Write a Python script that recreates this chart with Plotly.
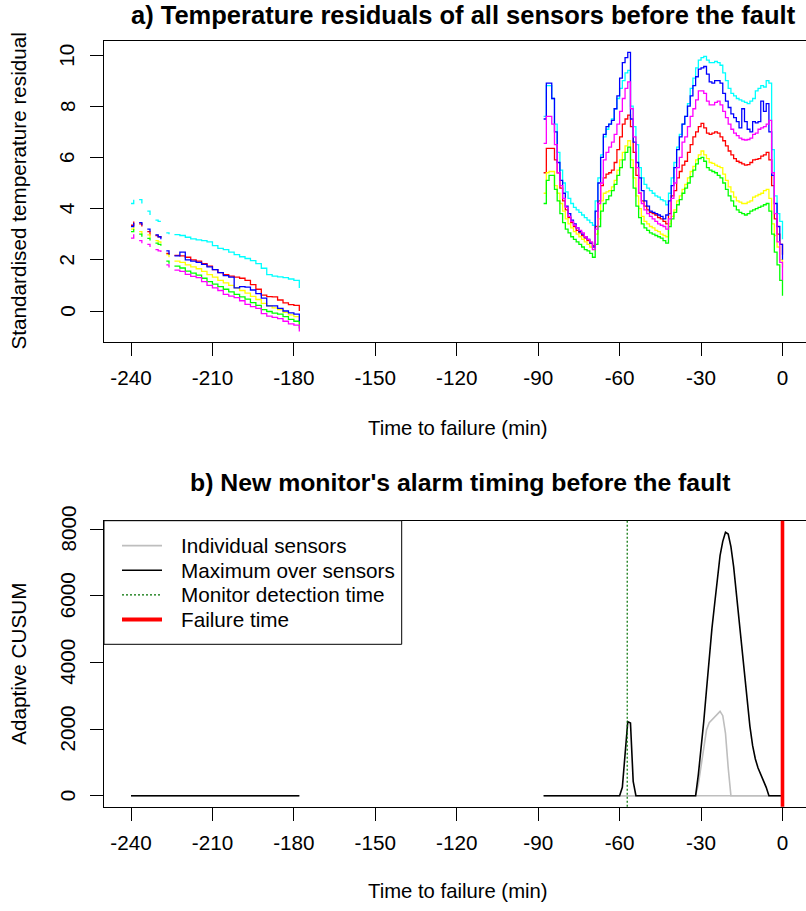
import plotly.graph_objects as go

# ---------------- data: panel a (standardised temperature residuals) ----------------
time_seg1 = [-240, -239, -238, -237, -236, -235, -234, -233, -232, -231, -230, -229, -228,
             -227, -226, -225, -224, -222, -220, -218, -216, -214, -212, -210, -208, -206,
             -204, -202, -200, -198, -196, -194, -192, -190, -188, -186, -184, -182, -180, -178]
time_seg2 = list(range(-88, 1))
gap_time = -130

red_seg1 = [3.35, 3.5, None, 3.4, 3.3, None, 3.1, 2.95, None, 2.95, 2.9, 2.85, None,
            2.25, 2.2, None, 2.17, 2.15, 2.1, 2.0, 1.95, 1.85, 1.75, 1.62, 1.5, 1.42,
            1.36, 1.32, 1.28, 1.2, 1.03, 0.85, 0.62, 0.56, 0.55, 0.43, 0.32, 0.25, 0.22, 0.0]
yellow_seg1 = [3.2, 3.3, None, 3.1, 3.0, None, 2.97, 2.85, None, 2.75, 2.7, 2.65, None,
               2.2, 2.1, None, 1.95, 1.9, 1.8, 1.72, 1.65, 1.55, 1.42, 1.32, 1.2, 1.1,
               1.0, 0.9, 0.8, 0.7, 0.57, 0.45, 0.3, 0.2, 0.12, 0.05, -0.05, -0.15, -0.22, -0.5]
green_seg1 = [3.1, 3.2, None, 3.0, 2.9, None, 2.84, 2.75, None, 2.65, 2.6, 2.55, None,
              1.95, 1.85, None, 1.75, 1.68, 1.56, 1.48, 1.4, 1.28, 1.15, 1.05, 0.95, 0.85,
              0.75, 0.65, 0.55, 0.46, 0.33, 0.22, 0.05, -0.02, -0.08, -0.12, -0.22, -0.33, -0.4, -0.68]
cyan_seg1 = [4.2, 4.35, None, 4.35, 4.2, None, 3.9, 3.75, None, 3.55, 3.5, 3.5, None,
             3.05, 3.0, None, 2.98, 2.95, 2.88, 2.82, 2.78, 2.75, 2.7, 2.55, 2.45, 2.4,
             2.3, 2.2, 2.12, 2.05, 1.97, 1.85, 1.67, 1.42, 1.36, 1.33, 1.3, 1.25, 1.2, 0.9]
blue_seg1 = [3.3, 3.45, None, 3.45, 3.35, None, 3.2, 3.1, None, 2.97, 2.9, 2.8, None,
             2.35, 2.2, None, 2.15, 2.3, 2.0, 1.95, 1.9, 1.82, 1.72, 1.62, 1.5, 1.38,
             1.32, 0.9, 0.95, 0.93, 0.82, 0.68, 0.5, 0.2, 0.2, 0.1, 0.0, -0.07, -0.12, -0.4]
magenta_seg1 = [2.85, 3.0, None, 2.75, 2.65, None, 2.6, 2.5, None, 2.4, 2.35, 2.3, None,
                1.8, 1.7, None, 1.6, 1.55, 1.43, 1.35, 1.3, 1.15, 1.0, 0.9, 0.8, 0.65,
                0.58, 0.52, 0.4, 0.26, 0.17, 0.1, -0.1, -0.2, -0.25, -0.3, -0.4, -0.5, -0.55, -0.8]

red_seg2 = [5.4, 6.35, 6.35, 6.35, 5.9, 5.4, 4.8, 4.3, 3.95,
            3.65, 3.45, 3.3, 3.15, 3.05, 2.95, 2.85, 2.75, 2.65, 2.55,
            3.3, 4.3, 4.9, 5.2, 5.35, 5.4, 5.5, 5.8, 6.3, 6.8,
            7.3, 7.5, 7.65, 7.2, 6.2, 5.3, 4.6, 4.3, 4.1, 3.95,
            3.85, 3.8, 3.75, 3.65, 3.6, 3.5, 3.4, 3.8, 4.5, 4.7,
            5.2, 5.45, 5.7, 5.85, 6.2, 6.5, 6.8, 7.0, 7.2, 7.33,
            7.15, 6.95, 6.9, 6.95, 7.0, 6.95, 6.8, 6.65, 6.45, 6.25,
            6.1, 5.95, 5.85, 5.8, 5.75, 5.7, 5.72, 5.8, 5.9, 5.92,
            5.95, 6.05, 6.1, 6.2, 5.9, 4.9, 3.6, 3.0, 2.6, 2.2]
yellow_seg2 = [4.6, 5.4, 5.45, 5.45, 4.9, 4.6, 4.2, 3.9, 3.6,
               3.4, 3.25, 3.1, 3.0, 2.9, 2.8, 2.7, 2.6, 2.5, 2.4,
               3.0, 3.6, 4.3, 4.6, 4.65, 4.7, 4.85, 5.1, 5.5, 5.9,
               6.2, 6.45, 6.65, 5.9, 5.2, 4.5, 4.0, 3.7, 3.5, 3.4,
               3.3, 3.25, 3.15, 3.1, 3.0, 2.95, 2.9, 3.4, 3.7, 3.95,
               4.3, 4.5, 4.75, 4.95, 5.2, 5.45, 5.65, 5.9, 6.1, 6.25,
               6.1, 5.95, 5.8, 5.77, 5.7, 5.65, 5.6, 5.35, 5.1, 4.85,
               4.65, 4.45, 4.3, 4.25, 4.2, 4.2, 4.25, 4.3, 4.45, 4.5,
               4.55, 4.6, 4.7, 4.75, 4.4, 3.4, 2.95, 2.5, 2.0, 1.7]
green_seg2 = [4.2, 5.1, 5.3, 5.3, 4.75, 4.3, 3.8, 3.45, 3.2,
              3.05, 2.9, 2.8, 2.7, 2.6, 2.5, 2.4, 2.35, 2.25, 2.1,
              2.6, 3.3, 3.9, 4.2, 4.35, 4.5, 4.7, 4.95, 5.3, 5.6,
              5.9, 6.2, 6.4, 5.6, 4.8, 4.1, 3.65, 3.4, 3.25, 3.15,
              3.05, 3.0, 2.95, 2.9, 2.85, 2.75, 2.65, 3.3, 3.6, 3.85,
              4.15, 4.35, 4.6, 4.8, 5.0, 5.25, 5.5, 5.75, 5.95, 6.0,
              5.85, 5.6, 5.5, 5.45, 5.4, 5.3, 5.2, 5.0, 4.75, 4.5,
              4.3, 4.1, 3.95, 3.85, 3.8, 3.75, 3.8, 3.9, 3.95, 4.0,
              4.05, 4.1, 4.15, 4.2, 3.9, 3.0, 2.3, 1.8, 1.2, 0.6]
cyan_seg2 = [7.6, 8.8, 8.8, 8.3, 7.3, 6.2, 5.5, 5.0, 4.65,
             4.4, 4.2, 4.05, 3.95, 3.85, 3.75, 3.65, 3.55, 3.45, 3.35,
             4.3, 5.2, 6.1, 6.8, 7.1, 7.3, 7.5, 7.9, 8.3, 8.7,
             9.0, 9.3, 9.4, 8.0, 7.2, 6.5, 5.6, 5.2, 4.95, 4.8,
             4.7, 4.6, 4.5, 4.45, 4.35, 4.3, 4.15, 4.6, 5.2, 5.8,
             6.4, 6.9, 7.3, 7.6, 8.1, 8.7, 9.1, 9.5, 9.8, 9.9,
             9.95, 9.8, 9.7, 9.7, 9.75, 9.7, 9.6, 9.3, 9.0, 8.7,
             8.5, 8.4, 8.3, 8.25, 8.2, 8.15, 8.1, 8.2, 8.3, 8.6,
             8.7, 8.8, 8.75, 9.0, 8.9, 6.3, 4.5, 3.8, 3.5, 2.8]
blue_seg2 = [7.5, 8.9, 8.9, 8.3, 7.0, 5.8, 5.1, 4.6, 4.1,
             3.8, 3.55, 3.4, 3.25, 3.1, 3.0, 2.9, 2.8, 2.65, 2.5,
             3.9, 5.0, 6.0, 6.9, 7.2, 7.3, 7.45, 7.9, 8.4, 9.1,
             9.7, 9.9, 10.1, 7.5, 6.6, 5.8, 5.2, 4.7, 4.3, 4.1,
             3.9, 3.85, 3.8, 3.75, 3.7, 3.6, 3.75, 4.3, 4.9, 5.6,
             6.3, 6.8, 7.3, 7.6, 8.0, 8.4, 8.8, 9.15, 9.45, 9.5,
             9.55, 9.25, 8.95, 8.9, 9.0, 9.0, 8.9, 8.5, 8.2, 7.95,
             7.7, 7.55, 7.4, 7.15, 7.9, 7.4, 7.1, 7.0, 7.4, 7.35,
             7.4, 8.2, 7.8, 8.1, 7.0, 5.3, 4.2, 3.3, 2.6, 2.0]
magenta_seg2 = [6.55, 7.6, 7.6, 7.3, 6.5, 5.4, 4.9, 4.4, 4.05,
                3.7, 3.5, 3.35, 3.25, 3.15, 3.05, 2.9, 2.8, 2.7, 2.4,
                3.2, 4.2, 5.0, 5.9, 6.2, 6.4, 6.6, 6.9, 7.3, 7.8,
                8.3, 8.7, 8.95, 7.9, 6.8, 5.6, 4.6, 4.2, 3.95, 3.8,
                3.7, 3.6, 3.5, 3.4, 3.35, 3.3, 3.2, 3.6, 4.4, 5.0,
                5.6, 6.0, 6.6, 6.8, 7.2, 7.6, 7.9, 8.25, 8.6, 8.6,
                8.5, 8.2, 8.05, 8.05, 8.15, 8.2, 8.05, 7.8, 7.55, 7.3,
                7.1, 6.95, 6.85, 6.75, 6.7, 6.68, 6.7, 6.75, 6.9, 6.95,
                7.1, 7.15, 7.2, 7.3, 7.45, 5.4, 3.8, 2.7, 1.9, 1.2]

sensor_names = ["red", "yellow", "green", "cyan", "blue", "magenta"]
sensor_colors = ["#FF0000", "#FFFF00", "#00FF00", "#00FFFF", "#0000FF", "#FF00FF"]
sensor_seg1 = [red_seg1, yellow_seg1, green_seg1, cyan_seg1, blue_seg1, magenta_seg1]
sensor_seg2 = [red_seg2, yellow_seg2, green_seg2, cyan_seg2, blue_seg2, magenta_seg2]

# ---------------- data: panel b (adaptive CUSUM) ----------------
cusum_time = [-240, -220, -200, -178, -130, -88, -80, -70, -61, -60,
              -59, -58, -57, -56, -55, -54, -45, -33,
              -32, -31, -30, -29, -28, -27, -26, -25, -24, -23, -22, -21, -20, -19, -18,
              -17, -16, -15, -14, -13, -12, -11, -10, -9, -8, -7, -6, -5, -4, -2, 0]
cusum_max = [0, 0, 0, 0, None, 0, 0, 0, 0, 0,
             250, 1200, 2220, 2180, 430, 0, 0, 0,
             0, 630, 1340, 2230, 3170, 4170, 5010, 5750, 6480, 7200, 7630, 7900, 7850, 7470, 6870,
             6040, 5210, 4420, 3620, 2790, 2080, 1500, 1100, 830, 650, 420, 250, 0, 0, 0, 0]
cusum_sensor_bump = [0, 0, 0, 0, None, 0, 0, 0, 0, 0,
                     0, 0, 0, 0, 0, 0, 0, 0,
                     0, 340, 900, 1500, 1970, 2190, 2270, 2350, 2420, 2530, 2400, 1870, 840, 0, 0,
                     0, 0, 0, 0, 0, 0, 0, 0, 0, 0, 0, 0, 0, 0, 0, 0]
cusum_sensor_other = [0, 0, 0, 0, None, 0, 0, 0, 0, 0,
                      0, 0, 0, 0, 0, 0, 0, 0,
                      0, 0, 0, 0, 0, 0, 0, 0, 0, 0, 0, 0, 0, 0, 0,
                      0, 0, 0, 0, 0, 0, 0, 0, 0, 0, 0, 0, 0, 0, 0, 0]
detection_time = -57.2
failure_time = 0

x_ticks = [-240, -210, -180, -150, -120, -90, -60, -30, 0]
y_ticks_a = [0, 2, 4, 6, 8, 10]
y_ticks_b = [0, 2000, 4000, 6000, 8000]
legend_labels = ["Individual sensors", "Maximum over sensors", "Monitor detection time", "Failure time"]

# ---------------- layout helpers ----------------
W, H = 806, 911
L = 104
FONT = "Liberation Sans, Arial, Helvetica, sans-serif"
FS = 20.7


def pxx(px):
    """screen x (pixels) -> paper x"""
    return (px - L) / (W - L)


def pxy(py):
    """screen y (pixels) -> paper y"""
    return 1 - py / H


fig = go.Figure()

time_a = time_seg1 + [gap_time] + time_seg2
for name, col, s1, s2 in zip(sensor_names, sensor_colors, sensor_seg1, sensor_seg2):
    fig.add_trace(go.Scatter(x=time_a, y=s1 + [None] + s2, mode="lines",
                             line=dict(color=col, width=1.3, shape="hv"), name=name,
                             xaxis="x", yaxis="y", showlegend=False, hoverinfo="skip"))

fig.add_trace(go.Scatter(x=cusum_time, y=cusum_sensor_other, mode="lines",
                         line=dict(color="#BEBEBE", width=1.6), xaxis="x2", yaxis="y2",
                         showlegend=False, hoverinfo="skip"))
fig.add_trace(go.Scatter(x=cusum_time, y=cusum_sensor_bump, mode="lines",
                         line=dict(color="#BEBEBE", width=1.6), xaxis="x2", yaxis="y2",
                         showlegend=False, hoverinfo="skip"))
fig.add_trace(go.Scatter(x=cusum_time, y=cusum_max, mode="lines",
                         line=dict(color="black", width=1.6), xaxis="x2", yaxis="y2",
                         showlegend=False, hoverinfo="skip"))

xr = [-249.95, 8.66]
ya_top, ya_bot = 41, 342
yb_top, yb_bot = 520.7, 806.7

axis_common = dict(showgrid=False, zeroline=False, showline=True, linecolor="black", linewidth=1,
                   ticks="outside", ticklen=13, tickwidth=1, tickcolor="black")

fig.update_layout(
    width=W, height=H, autosize=False,
    margin=dict(l=L, r=0, t=0, b=0, pad=0),
    paper_bgcolor="white", plot_bgcolor="white",
    showlegend=False,
    font=dict(family=FONT, size=FS, color="black"),
    xaxis=dict(domain=[0, 1], range=xr, anchor="y", tickvals=x_ticks,
               ticktext=[str(v) for v in x_ticks], mirror=True,
               tickfont=dict(size=FS, family=FONT, color="black"), ticklabelstandoff=4,
               **axis_common),
    yaxis=dict(domain=[pxy(ya_bot), pxy(ya_top)], range=[-1.211, 10.547], anchor="x",
               tickvals=y_ticks_a, showticklabels=False, **axis_common),
    xaxis2=dict(domain=[0, 1], range=xr, anchor="y2", tickvals=x_ticks,
                ticktext=[str(v) for v in x_ticks], mirror=True,
                tickfont=dict(size=FS, family=FONT, color="black"), ticklabelstandoff=4,
                **axis_common),
    yaxis2=dict(domain=[pxy(yb_bot), pxy(yb_top)], range=[-330, 8249], anchor="x2",
                tickvals=y_ticks_b, showticklabels=False, **axis_common),
)

shapes = []
# vertical reference lines in panel b
shapes.append(dict(type="line", xref="x2", yref="y2 domain", x0=detection_time, x1=detection_time,
                   y0=0, y1=1, line=dict(color="#007000", width=1.2, dash="2px,2px"), layer="above"))
shapes.append(dict(type="line", xref="x2", yref="y2 domain", x0=failure_time, x1=failure_time,
                   y0=0, y1=1, line=dict(color="#FF0000", width=3.6), layer="above"))

# legend box
shapes.append(dict(type="rect", xref="paper", yref="paper", x0=pxx(104), x1=pxx(401.7),
                   y0=pxy(644.3), y1=pxy(520.7), line=dict(color="black", width=1),
                   fillcolor="white", layer="above"))
row_y = [545.6, 570.2, 594.8, 619.4]
leg_styles = [dict(color="#BEBEBE", width=1.6), dict(color="black", width=1.6),
              dict(color="#007000", width=1.2, dash="2px,2px"), dict(color="#FF0000", width=4)]
annotations = []
for ry, st, lab in zip(row_y, leg_styles, legend_labels):
    shapes.append(dict(type="line", xref="paper", yref="paper", x0=pxx(122), x1=pxx(162),
                       y0=pxy(ry), y1=pxy(ry), line=st, layer="above"))
    annotations.append(dict(x=pxx(179), y=pxy(ry), xref="paper", yref="paper", text=lab,
                            showarrow=False, xanchor="left", yanchor="middle",
                            font=dict(family=FONT, size=FS, color="black")))

# y tick labels (rotated like R)
for v in y_ticks_a:
    annotations.append(dict(x=pxx(66.7), y=v, xref="paper", yref="y", text=str(v), textangle=-90,
                            showarrow=False, xanchor="center", yanchor="middle",
                            font=dict(family=FONT, size=FS, color="black")))
for v in y_ticks_b:
    annotations.append(dict(x=pxx(67.5), y=v, xref="paper", yref="y2", text=str(v), textangle=-90,
                            showarrow=False, xanchor="center", yanchor="middle",
                            font=dict(family=FONT, size=FS, color="black")))

# titles
annotations.append(dict(x=pxx(463), y=pxy(15), xref="paper", yref="paper",
                        text="<b>a) Temperature residuals of all sensors before the fault</b>",
                        showarrow=False, xanchor="center", yanchor="middle",
                        font=dict(family=FONT, size=25.5, color="black")))
annotations.append(dict(x=pxx(460), y=pxy(482), xref="paper", yref="paper",
                        text="<b>b) New monitor's alarm timing before the fault</b>",
                        showarrow=False, xanchor="center", yanchor="middle",
                        font=dict(family=FONT, size=24.8, color="black")))
for ty in [428, 891]:
    annotations.append(dict(x=pxx(458), y=pxy(ty), xref="paper", yref="paper",
                            text="Time to failure (min)", showarrow=False,
                            xanchor="center", yanchor="middle",
                            font=dict(family=FONT, size=20.3, color="black")))
annotations.append(dict(x=pxx(18), y=pxy(191.5), xref="paper", yref="paper",
                        text="Standardised temperature residual", textangle=-90, showarrow=False,
                        xanchor="center", yanchor="middle",
                        font=dict(family=FONT, size=FS, color="black")))
annotations.append(dict(x=pxx(19), y=pxy(663.7), xref="paper", yref="paper",
                        text="Adaptive CUSUM", textangle=-90, showarrow=False,
                        xanchor="center", yanchor="middle",
                        font=dict(family=FONT, size=FS, color="black")))

fig.update_layout(shapes=shapes, annotations=annotations)
# place the figure at the page's top-left corner, as the reference image is
fig.write_html("out.html", config={"displayModeBar": False},
               post_script="document.body.style.margin='0';document.body.style.overflow='hidden';")
